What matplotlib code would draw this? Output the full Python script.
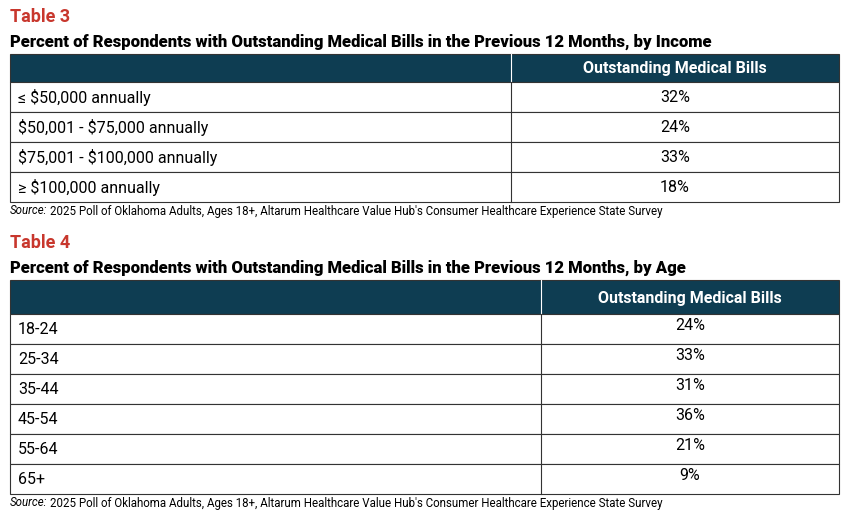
import matplotlib.pyplot as plt
from matplotlib.patches import Rectangle

plt.rcParams['font.family'] = ['Roboto', 'DejaVu Sans']
plt.rcParams['text.parse_math'] = False

# data
income_labels = ["≤ $50,000 annually", "$50,001 - $75,000 annually",
                 "$75,001 - $100,000 annually", "≥ $100,000 annually"]
income_values = ["32%", "24%", "33%", "18%"]
age_labels = ["18-24", "25-34", "35-44", "45-54", "55-64", "65+"]
age_values = ["24%", "33%", "31%", "36%", "21%", "9%"]
col_header = "Outstanding Medical Bills"
source = "2025 Poll of Oklahoma Adults, Ages 18+, Altarum Healthcare Value Hub's Consumer Healthcare Experience State Survey"

RED = "#c8372d"
HEAD = "#0e3d52"

fig = plt.figure(figsize=(8.54, 5.12), dpi=100)
ax = fig.add_axes([0, 0, 1, 1])
ax.set_xlim(0, 854)
ax.set_ylim(512, 0)
ax.axis("off")


def draw_table(top, name, subtitle, labels, values, head_h, row_h, divider, val_dy):
    ax.text(10, top, name, color=RED, fontsize=13, fontweight="bold", va="center")
    ax.text(10, top + 25, subtitle, color="black", fontsize=12, fontweight="heavy", va="center")
    y0 = top + 37
    left, right = 10, 839
    ax.add_patch(Rectangle((left, y0), right - left, head_h, facecolor=HEAD, edgecolor="#333333", lw=0.8))
    ax.plot([divider, divider], [y0, y0 + head_h], color="white", lw=0.8)
    ax.text((divider + right) / 2, y0 + head_h / 2 + 1, col_header, color="white",
            fontsize=11.5, fontweight="bold", ha="center", va="center")
    y = y0 + head_h
    for lab, val in zip(labels, values):
        ax.add_patch(Rectangle((left, y), right - left, row_h, facecolor="white", edgecolor="#333333", lw=0.8))
        ax.plot([divider, divider], [y, y + row_h], color="#333333", lw=0.8)
        ax.text(left + 8, y + row_h / 2 + 1, lab, fontsize=11.5, va="center")
        ax.text((divider + right) / 2, y + row_h / 2 + val_dy, val, fontsize=11.5, ha="center", va="center")
        y += row_h
    ax.text(10, y + 9, "Source:", fontsize=8.3, style="italic", va="center")
    ax.text(50, y + 9, source, fontsize=8.3, va="center")


draw_table(17, "Table 3", "Percent of Respondents with Outstanding Medical Bills in the Previous 12 Months, by Income",
           income_labels, income_values, 28, 30, 511, 1)
draw_table(243, "Table 4", "Percent of Respondents with Outstanding Medical Bills in the Previous 12 Months, by Age",
           age_labels, age_values, 34, 30, 541, -3)

fig.savefig("out.png", dpi=100)
